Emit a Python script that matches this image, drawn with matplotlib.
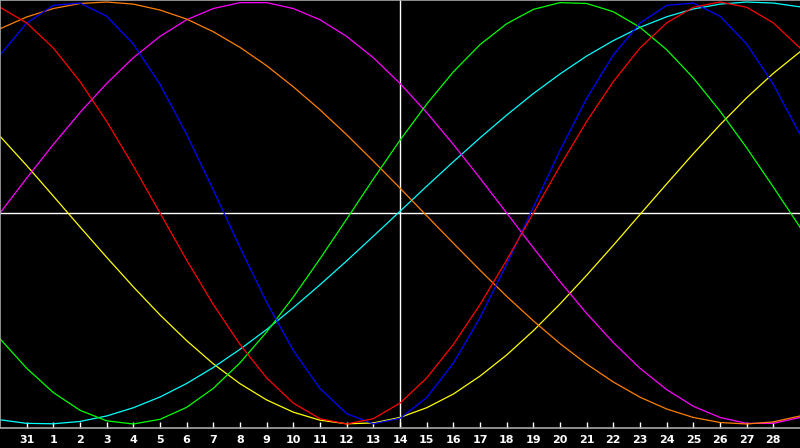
import matplotlib
matplotlib.use('Agg')
import matplotlib.pyplot as plt

# ── data: daily cycle values (-1..1), day index 0..30 ─────────────────────────
days = list(range(31))
tick_pos = list(range(1, 30))
tick_labels = ['31'] + [str(d) for d in range(1, 29)]

red = [0.975, 0.901, 0.782, 0.623, 0.434, 0.223, 0.0, -0.223, -0.434, -0.623,
       -0.782, -0.901, -0.975, -1.0, -0.975, -0.901, -0.782, -0.623, -0.434, -0.223,
       0.0, 0.223, 0.434, 0.623, 0.782, 0.901, 0.975, 1.0, 0.975, 0.901, 0.782]
blue = [0.749, 0.900, 0.984, 0.995, 0.933, 0.801, 0.610, 0.373, 0.109, -0.163,
        -0.423, -0.652, -0.832, -0.951, -0.999, -0.973, -0.875, -0.712, -0.496, -0.243,
        0.027, 0.296, 0.543, 0.749, 0.900, 0.984, 0.995, 0.933, 0.801, 0.610, 0.373]
green = [-0.596, -0.736, -0.851, -0.935, -0.985, -1.0, -0.978, -0.921, -0.831, -0.710,
         -0.564, -0.398, -0.217, -0.029, 0.161, 0.345, 0.516, 0.669, 0.798, 0.897,
         0.965, 0.997, 0.993, 0.954, 0.880, 0.774, 0.640, 0.483, 0.309, 0.123, -0.067]
orange = [0.873, 0.929, 0.969, 0.993, 1.0, 0.990, 0.962, 0.919, 0.859, 0.785,
          0.698, 0.598, 0.489, 0.371, 0.246, 0.118, -0.013, -0.143, -0.271, -0.395,
          -0.511, -0.619, -0.716, -0.801, -0.873, -0.929, -0.969, -0.993, -1.0, -0.990, -0.962]
magenta = [0.0, 0.165, 0.325, 0.476, 0.614, 0.736, 0.837, 0.916, 0.969, 0.997,
           0.997, 0.969, 0.916, 0.837, 0.736, 0.614, 0.476, 0.325, 0.165, 0.0,
           -0.165, -0.325, -0.476, -0.614, -0.736, -0.837, -0.916, -0.969, -0.997, -0.997, -0.969]
cyan = [-0.980, -0.997, -0.999, -0.988, -0.962, -0.923, -0.872, -0.808, -0.732, -0.646,
        -0.552, -0.449, -0.340, -0.227, -0.110, 0.008, 0.127, 0.243, 0.356, 0.464,
        0.566, 0.659, 0.744, 0.817, 0.880, 0.930, 0.967, 0.990, 1.0, 0.995, 0.977]
yellow = [0.364, 0.225, 0.080, -0.066, -0.210, -0.350, -0.483, -0.605, -0.715, -0.809,
          -0.886, -0.944, -0.982, -0.999, -0.995, -0.969, -0.923, -0.858, -0.773, -0.673,
          -0.558, -0.431, -0.295, -0.153, -0.007, 0.138, 0.281, 0.418, 0.546, 0.662, 0.764]

series = [
    (yellow, '#ffff00'),
    (cyan, '#00ffff'),
    (magenta, '#ff00ff'),
    (orange, '#ff8000'),
    (green, '#00ff00'),
    (blue, '#0000ff'),
    (red, '#ff0000'),
]

# ── plot ──────────────────────────────────────────────────────────────────────
fig = plt.figure(figsize=(8, 4.48), dpi=100, facecolor='black')
ax = fig.add_axes([0, 20 / 448, 1, 428 / 448], facecolor='black')

ax.set_xlim(0, 30)
ax.set_ylim(-1.019, 1.0095)

# crosshair
ax.axvline(15, color='white', lw=1.0, zorder=1)
ax.axhline(0, color='white', lw=1.0, zorder=1)

for vals, col in series:
    ax.plot(days, vals, color=col, lw=0.9, zorder=2)

for side in ('top', 'left', 'bottom'):
    ax.spines[side].set_color('#a8a8a8')
    ax.spines[side].set_linewidth(1.2)
ax.spines['right'].set_visible(False)

ax.set_yticks([])
ax.set_xticks(tick_pos)
ax.set_xticklabels(tick_labels)
ax.tick_params(axis='x', direction='in', length=4, width=1.0, color='white',
               labelcolor='white', labelsize=8, pad=5)
for lbl in ax.get_xticklabels():
    lbl.set_fontweight('bold')
    lbl.set_family('DejaVu Sans')

fig.savefig('out.png', dpi=100, facecolor='black')
